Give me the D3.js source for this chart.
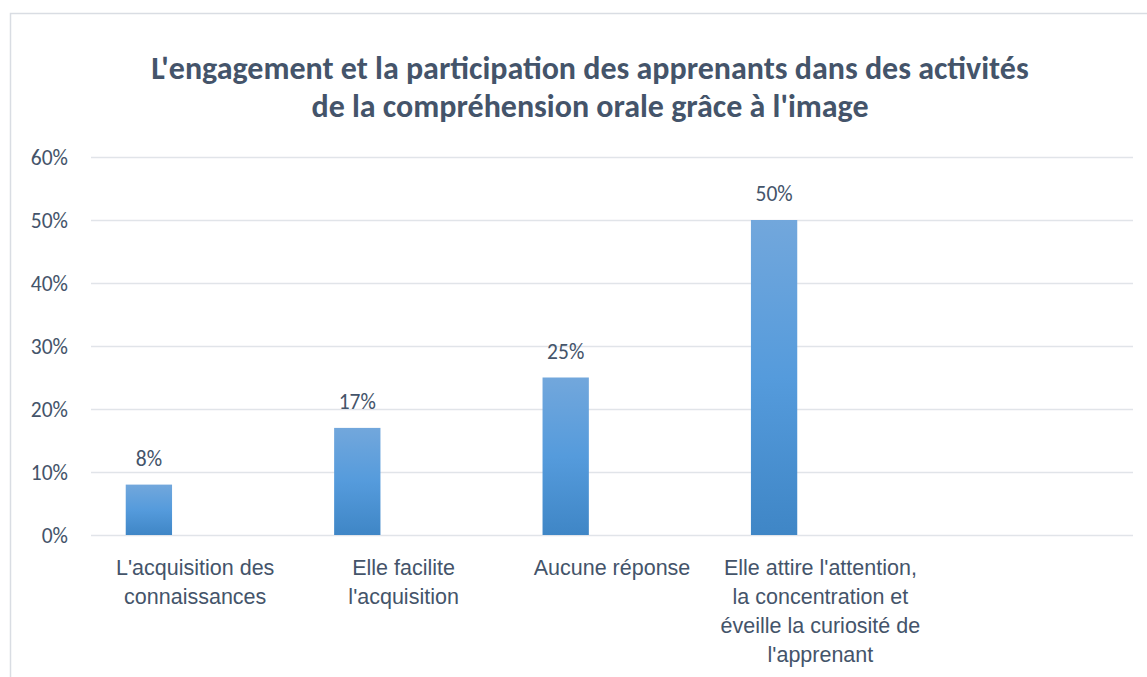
<!DOCTYPE html>
<html>
<head>
<meta charset="utf-8">
<script src="https://cdn.jsdelivr.net/npm/d3@7"></script>
<style>
  body { margin: 0; background: #fff; }
  svg { display: block; font-family: Carlito, Lato, "Open Sans", sans-serif; }
</style>
</head>
<body>
<div id="chart"></div>
<script>
const titleLines = [
  "L'engagement et la participation des apprenants dans des activités",
  "de la compréhension orale grâce à l'image"
];
const categories = [
  "L'acquisition des\nconnaissances",
  "Elle facilite\nl'acquisition",
  "Aucune réponse",
  "Elle attire l'attention,\nla concentration et\néveille la curiosité de\nl'apprenant",
  ""
];
// Excel cluster: three series slots, only the first one holds values
const seriesNames = ["Série 1", "Série 2", "Série 3"];
const series1 = [8, 17, 25, 50, null];
const yTicks = [0, 10, 20, 30, 40, 50, 60];

const W = 1147, H = 677;
const margin = { left: 91, right: 14, top: 157, bottom: 142 };
const textColor = "#44546a";
const fontSize = "21.5px";

const svg = d3.select("#chart").append("svg").attr("width", W).attr("height", H);

const defs = svg.append("defs");
const grad = defs.append("linearGradient").attr("id", "barGrad")
  .attr("x1", 0).attr("y1", 0).attr("x2", 0).attr("y2", 1);
grad.append("stop").attr("offset", "0%").attr("stop-color", "#72a7dc");
grad.append("stop").attr("offset", "50%").attr("stop-color", "#559bdc");
grad.append("stop").attr("offset", "100%").attr("stop-color", "#3f86c6");

// chart frame
svg.append("path")
  .attr("d", `M10.5,${H} V13.5 H${W}`)
  .attr("fill", "none").attr("stroke", "#d9dde3").attr("stroke-width", 1.5);

const x = d3.scaleBand().domain(d3.range(categories.length))
  .range([margin.left, W - margin.right]);
// gap width 150% -> cluster takes 3/4.5 of the band
const cluster = x.bandwidth() * 3 / 4.5;
const xs = d3.scaleBand().domain(seriesNames)
  .range([(x.bandwidth() - cluster) / 2, (x.bandwidth() + cluster) / 2]);
const y = d3.scaleLinear().domain([0, 60]).range([H - margin.bottom, margin.top]);

// gridlines
svg.append("g").selectAll("line").data(yTicks).join("line")
  .attr("x1", margin.left).attr("x2", W - margin.right)
  .attr("y1", d => Math.round(y(d)) + 0.5).attr("y2", d => Math.round(y(d)) + 0.5)
  .attr("stroke", "#e1e4e9").attr("stroke-width", 1.5);

// y axis labels
const yAxis = d3.axisLeft(y).tickValues(yTicks).tickFormat(d => d + "%").tickSize(0).tickPadding(0);
const gy = svg.append("g").attr("transform", `translate(68,0)`).call(yAxis);
gy.select(".domain").remove();
gy.selectAll("text").attr("fill", textColor).style("font-size", fontSize)
  .style("font-family", "Carlito, Lato, sans-serif").attr("dy", "0.35em");

// bars
const bars = series1.map((v, i) => ({ i, v })).filter(d => d.v != null);
svg.append("g").selectAll("rect").data(bars).join("rect")
  .attr("x", d => x(d.i) + xs(seriesNames[0]))
  .attr("width", xs.bandwidth())
  .attr("y", d => y(d.v))
  .attr("height", d => y(0) - y(d.v))
  .attr("fill", "url(#barGrad)");

// value labels
svg.append("g").selectAll("text").data(bars).join("text")
  .attr("x", d => x(d.i) + xs(seriesNames[0]) + xs.bandwidth() / 2)
  .attr("y", d => y(d.v) - 19)
  .attr("text-anchor", "middle")
  .attr("fill", textColor).style("font-size", fontSize)
  .text(d => d.v + "%");

// category labels
const xAxis = d3.axisBottom(x).tickSize(0).tickFormat(() => "");
const gx = svg.append("g").attr("transform", `translate(0,${y(0)})`).call(xAxis);
gx.select(".domain").remove();
gx.selectAll(".tick text").remove();
gx.selectAll(".tick").append("text")
  .attr("text-anchor", "middle").attr("fill", textColor).style("font-size", fontSize)
  .selectAll("tspan").data(i => categories[i].split("\n")).join("tspan")
  .attr("x", 0).attr("y", (d, k) => 39.5 + k * 29).text(d => d);

// title
svg.append("text").attr("text-anchor", "middle").attr("fill", textColor)
  .style("font-size", "32px").style("font-weight", "bold")
  .selectAll("tspan").data(titleLines).join("tspan")
  .attr("x", 590).attr("y", (d, k) => 79 + k * 38).text(d => d);
</script>
</body>
</html>
